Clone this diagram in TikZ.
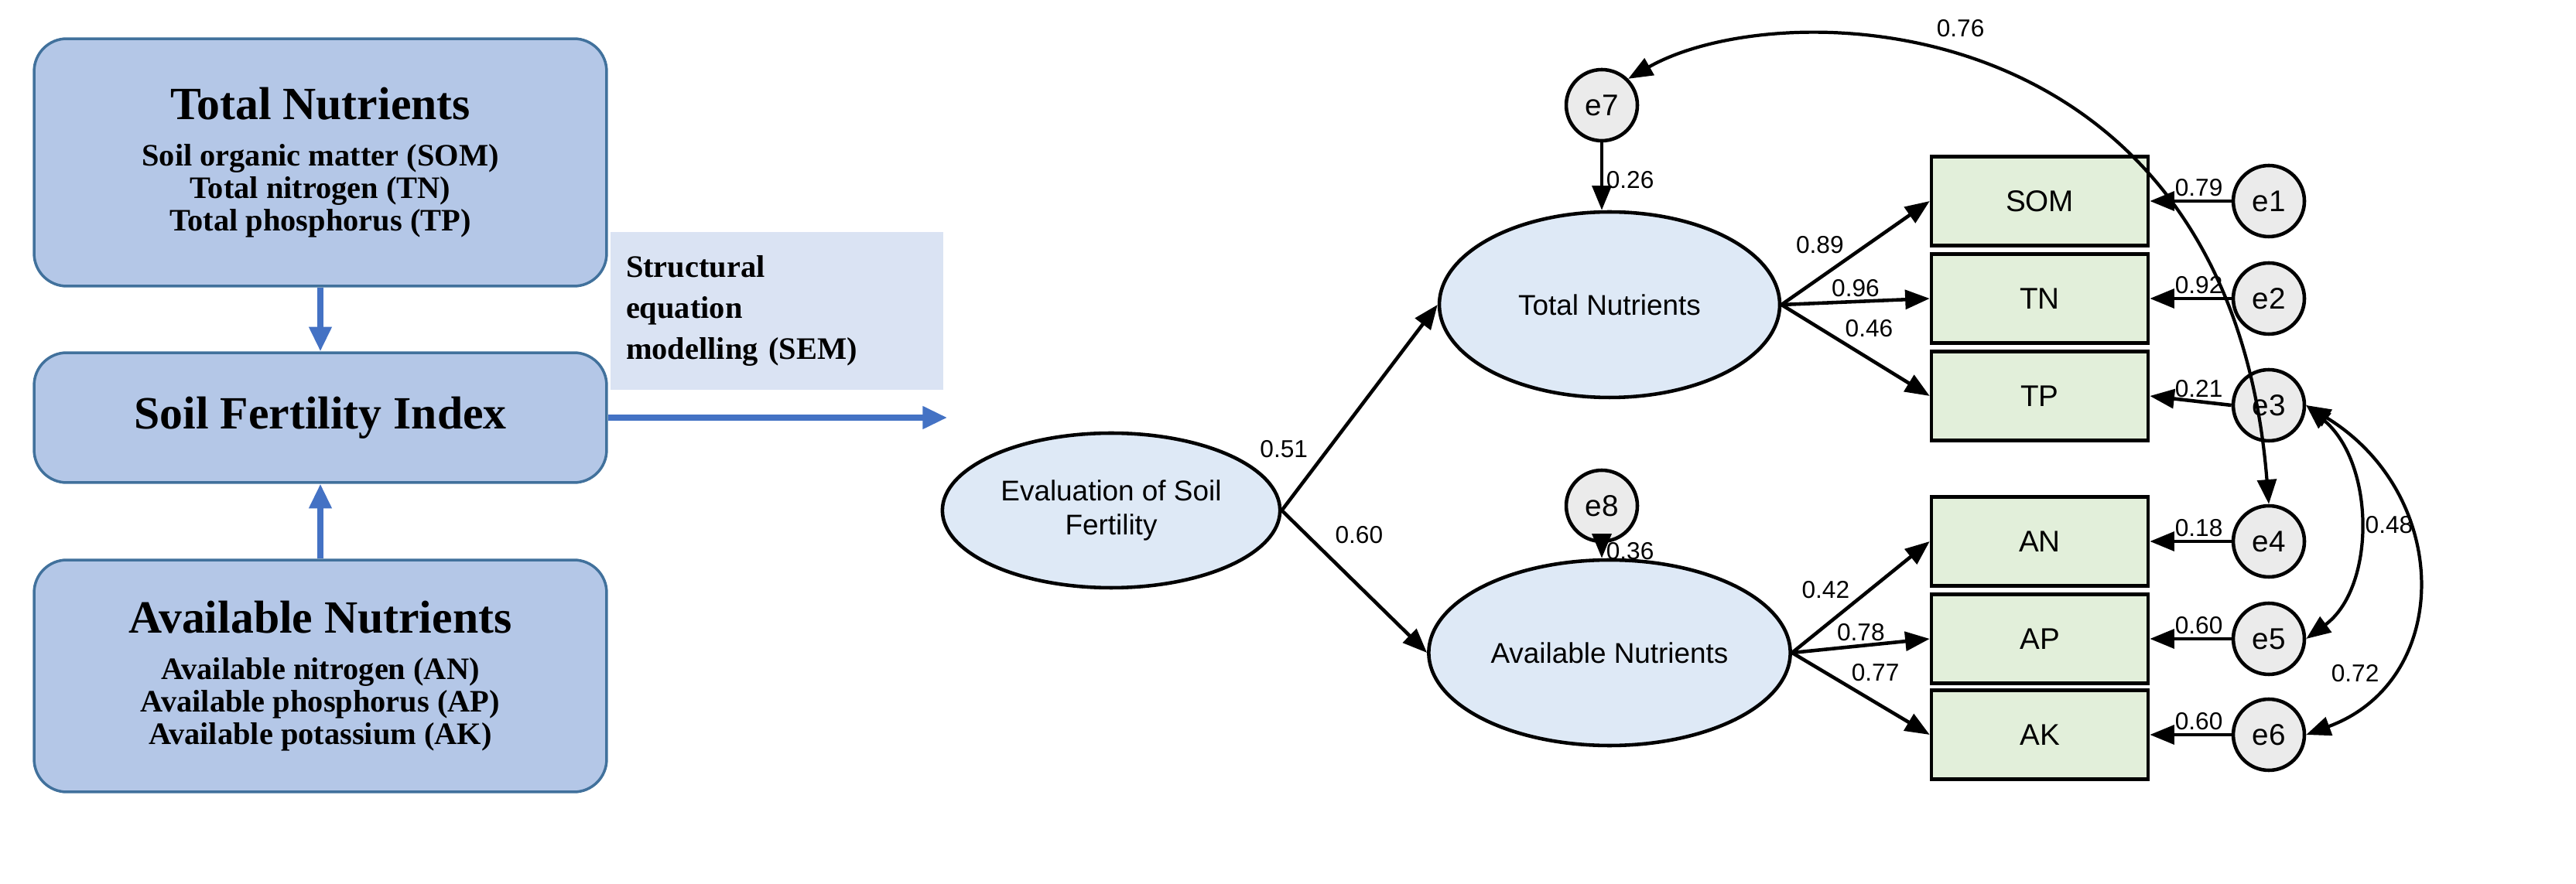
\documentclass[tikz,border=0pt]{standalone}
\usepackage{fontspec}
\setmainfont{Liberation Serif}
\newfontfamily\sem{Liberation Sans}
\usetikzlibrary{arrows.meta,shapes.geometric}
\newcommand{\sub}{\fontsize{11.5}{15.3}\selectfont}
\begin{document}
\begin{tikzpicture}[x=0.02cm,y=-0.02cm,
 lbox/.style={draw={rgb,255:red,65;green,113;blue,156},line width=1pt,fill={rgb,255:red,180;green,199;blue,231},rounded corners=12pt,align=center,font=\bfseries},
 barr/.style={-{Triangle[length=9pt,width=8pt]},line width=2pt,draw={rgb,255:red,68;green,114;blue,196}},
 lat/.style={draw,line width=1.3pt,ellipse,fill={rgb,255:red,222;green,233;blue,246},font=\sem\fontsize{10.5}{12.5}\selectfont,align=center},
 obs/.style={draw,line width=1.3pt,fill={rgb,255:red,226;green,239;blue,218},minimum width=2.8cm,minimum height=1.15cm,font=\sem\fontsize{11}{13}\selectfont},
 err/.style={draw,line width=1.3pt,circle,fill=black!8,minimum size=0.92cm,inner sep=0pt,font=\sem\fontsize{11}{13}\selectfont},
 pa/.style={-{Triangle[length=9pt,width=7pt]},line width=1.3pt},
 ba/.style={{Triangle[length=9pt,width=7pt]}-{Triangle[length=9pt,width=7pt]},line width=1.2pt},
 num/.style={font=\sem\fontsize{9}{11}\selectfont,inner sep=1pt}]
\useasboundingbox (0,0) rectangle (1664.5,571.5);
% left
\node[lbox,minimum width=7.4cm,minimum height=3.2cm] (tn) at (207,105) {\fontsize{17}{20}\selectfont Total Nutrients\\[5pt]\sub Soil organic matter (SOM)\\ \sub Total nitrogen (TN)\\ \sub Total phosphorus (TP)};
\node[lbox,minimum width=7.4cm,minimum height=1.68cm] (sfi) at (207,270) {\fontsize{17}{20}\selectfont Soil Fertility Index};
\node[lbox,minimum width=7.4cm,minimum height=3cm] (an) at (207,437) {\fontsize{17}{20}\selectfont Available Nutrients\\[5pt]\sub Available nitrogen (AN)\\ \sub Available phosphorus (AP)\\ \sub Available potassium (AK)};
\draw[barr] (tn.south) -- (sfi.north);
\draw[barr] (an.north) -- (sfi.south);
\node[fill={rgb,255:red,218;green,227;blue,243},minimum width=4.3cm,minimum height=2.04cm,align=left,font=\bfseries\fontsize{11.5}{15}\selectfont,text width=3.9cm] (semlab) at (502,201) {Structural\\ equation\\ modelling (SEM)};
\coordinate (semend) at (612,270);
\draw[barr] (sfi.east) -- (semend);
% right
\node[lat,minimum width=4.16cm,minimum height=2cm] (ev) at (718,330) {Evaluation of Soil\\Fertility};
\node[lat,minimum width=4.4cm,minimum height=2.4cm] (tot) at (1040,197) {Total Nutrients};
\node[lat,minimum width=4.4cm,minimum height=2.4cm] (av) at (1040,422) {Available Nutrients};
\node[err] (e7) at (1035,68) {e7};
\node[err] (e8) at (1035,327) {e8};
\foreach \n/\y in {SOM/130,TN/193,TP/256,AN/350,AP/413,AK/475}{\node[obs] (\n) at (1318,\y) {\n};}
\foreach \i/\y in {1/130,2/193,3/262,4/350,5/413,6/475}{\node[err] (e\i) at (1466,\y) {e\i};}
\draw[pa] (ev.east) -- node[num,pos=0.3,left=6pt]{0.51} (tot.west);
\draw[pa] (ev.east) -- node[num,pos=0.3,above right=2pt]{0.60} (av.west);
\draw[pa] (e7.south) -- node[num,right,pos=0.55]{0.26} (e7.south |- tot.north);
\draw[pa] (e8.south) -- node[num,right,pos=0.55]{0.36} (e8.south |- av.north);
\draw[pa] (tot.east) -- node[num,above left,pos=0.45]{0.89} (SOM.west);
\draw[pa] (tot.east) -- node[num,above,pos=0.5]{0.96} (TN.west);
\draw[pa] (tot.east) -- node[num,above right,pos=0.4]{0.46} (TP.west);
\draw[pa] (av.east) -- node[num,above left,pos=0.45]{0.42} (AN.west);
\draw[pa] (av.east) -- node[num,above,pos=0.5]{0.78} (AP.west);
\draw[pa] (av.east) -- node[num,above right,pos=0.4]{0.77} (AK.west);
\foreach \i/\v/\n in {1/0.79/SOM,2/0.92/TN,3/0.21/TP,4/0.18/AN,5/0.60/AP,6/0.60/AK}{\draw[pa] (e\i.west) -- node[num,above,pos=0.4]{\v} (\n.east);}
\draw[ba] (e7.north east) .. controls (1150,-5) and (1440,0) .. node[num,pos=0.42,above right=3pt]{0.76} (e4.north);
\draw[ba] (e3.east) .. controls (1535,300) and (1535,380) .. node[num,pos=0.5,right=1pt]{0.48} (e5.east);
\draw[ba] (e3.east) .. controls (1585,320) and (1585,440) .. node[num,pos=0.75,left=2pt]{0.72} (e6.east);
\end{tikzpicture}
\end{document}
